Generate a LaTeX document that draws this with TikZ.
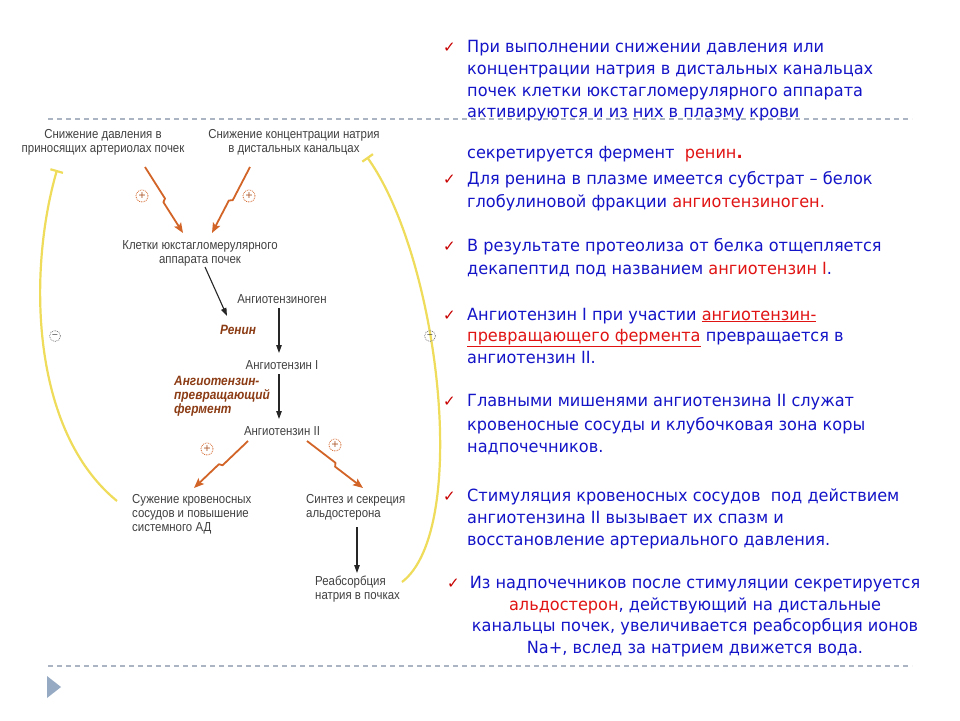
\documentclass[tikz,border=0pt]{standalone}
\usepackage{fontspec}
\setmainfont[FakeStretch=0.96]{DejaVu Sans}
\newfontfamily\chkfont{DejaVu Sans}
\newfontfamily\diagfont[FakeStretch=0.88]{Liberation Sans}
\usetikzlibrary{arrows.meta,calc}

\definecolor{txtblue}{RGB}{20,20,200}
\definecolor{txtred}{RGB}{225,20,20}
\definecolor{chk}{RGB}{200,0,0}
\definecolor{dgray}{RGB}{65,65,65}
\definecolor{enzbrown}{RGB}{140,60,20}
\definecolor{orng}{RGB}{210,100,40}
\definecolor{yell}{RGB}{238,220,90}
\definecolor{dashc}{RGB}{170,180,195}
\definecolor{tric}{RGB}{150,170,195}

\tikzset{
  bl/.style={anchor=base west, inner sep=0pt, font=\fontsize{16.8}{22}\selectfont, text=txtblue},
  blc/.style={anchor=base, inner sep=0pt, font=\fontsize{16.8}{22}\selectfont, text=txtblue},
  chkmark/.style={anchor=base west, inner sep=0pt, font=\chkfont\bfseries\fontsize{15}{15}\selectfont, text=chk},
  dtext/.style={inner sep=0pt, font=\diagfont\fontsize{13}{14}\selectfont, text=dgray, align=center},
  dtextl/.style={dtext, align=left, anchor=north west},
  enz/.style={inner sep=0pt, font=\diagfont\bfseries\itshape\fontsize{13.5}{14}\selectfont, text=enzbrown, align=left},
  blk/.style={draw=black!85, line width=1.1pt, -{Triangle[length=8pt,width=5.5pt]}},
  org/.style={draw=orng, line width=1.8pt, line join=round, -{Stealth[length=10pt,width=8pt,inset=2pt]}},
  yarc/.style={draw=yell, line width=2.2pt, -{Bar[width=13pt]}},
  plusc/.style={circle, draw=orng, densely dotted, line width=0.8pt, minimum size=12pt, inner sep=0pt, text=orng!80!black, font=\chkfont\fontsize{9.5}{9.5}\selectfont},
  minusc/.style={circle, draw=gray, densely dotted, line width=0.8pt, minimum size=11pt, inner sep=0pt, text=dgray, font=\chkfont\fontsize{8}{8}\selectfont},
  sep/.style={draw=dashc, line width=1.3pt, dash pattern=on 5pt off 4pt}
}

\newcommand\zaparrow[2]{\draw[org] (#1) -- ($(#1)!0.49!(#2)!1.6pt!90:(#2)$) -- ($(#1)!0.52!(#2)!1.6pt!-90:(#2)$) -- (#2);}

\begin{document}
\begin{tikzpicture}[x=1pt,y=-1pt]
\useasboundingbox (0,0) rectangle (960,720);
\fill[white] (0,0) rectangle (960,720);

% separators
\coordinate (s1a) at (48,119); \coordinate (s1b) at (912,119);
\coordinate (s2a) at (48,666); \coordinate (s2b) at (912,666);
\draw[sep] (s1a) -- (s1b);
\draw[sep] (s2a) -- (s2b);
\fill[tric] (47,676) -- (61,687) -- (47,698) -- cycle;

% ---------- left diagram ----------
\node[dtext] (n1) at (103,142.5) {Снижение давления в\\приносящих артериолах почек};
\node[dtext] (n2) at (294,142.5) {Снижение концентрации натрия\\в дистальных канальцах};
\node[dtext] (n3) at (200,253.5) {Клетки юкстагломерулярного\\аппарата почек};
\node[dtext] (n4) at (282,299) {Ангиотензиноген};
\node[enz] (ren) at (238,330) {Ренин};
\node[dtext] (n5) at (282,365) {Ангиотензин I};
\node[enz, anchor=north west] (ace) at (174,376) {Ангиотензин-\\превращающий\\фермент};
\node[dtext] (n6) at (282,431) {Ангиотензин II};
\node[dtextl] (n7) at (132,494) {Сужение кровеносных\\сосудов и повышение\\системного АД};
\node[dtextl] (n8) at (306,494) {Синтез и секреция\\альдостерона};
\node[dtextl] (n9) at (315,576) {Реабсорбция\\натрия в почках};

% connector end points
\coordinate (a1s) at (145,167); \coordinate (a1e) at (183,233);
\coordinate (a2s) at (250,167); \coordinate (a2e) at (212,233);
\coordinate (b1s) at (205,267); \coordinate (b1e) at (227,316);
\coordinate (b2s) at (279,308); \coordinate (b2e) at (279,353);
\coordinate (b3s) at (279,374); \coordinate (b3e) at (279,419);
\coordinate (a3s) at (248,441); \coordinate (a3e) at (194,488);
\coordinate (a4s) at (307,441); \coordinate (a4e) at (363,488);
\coordinate (b4s) at (357,527); \coordinate (b4e) at (357,573);

\zaparrow{a1s}{a1e}
\zaparrow{a2s}{a2e}
\zaparrow{a3s}{a3e}
\zaparrow{a4s}{a4e}
\draw[blk] (b1s) -- (b1e);
\draw[blk] (b2s) -- (b2e);
\draw[blk] (b3s) -- (b3e);
\draw[blk] (b4s) -- (b4e);

\node[plusc] (p1) at (142,196) {+};
\node[plusc] (p2) at (249,196) {+};
\node[plusc] (p3) at (207,449) {+};
\node[plusc] (p4) at (335,445) {+};

% feedback arcs
\coordinate (yl1) at (117,501); \coordinate (yl2) at (57,170);
\coordinate (yr1) at (402,582); \coordinate (yr2) at (367,157);
\draw[yarc] (yl1) .. controls (30,430) and (28,270) .. (yl2);
\draw[yarc] (yr1) .. controls (470,530) and (440,260) .. (yr2);
\node[minusc] (m1) at (55,336) {−};
\node[minusc] (m2) at (430,336) {−};

% ---------- right text ----------
\node[chkmark] (c1) at (443,52) {✓};
\node[bl] (t11) at (467,52) {При выполнении снижении давления или};
\node[bl] (t12) at (467,74) {концентрации натрия в дистальных канальцах};
\node[bl] (t13) at (467,96) {почек клетки юкстагломерулярного аппарата};
\node[bl] (t14) at (467,117.5) {активируются и из них в плазму крови};
\node[bl] (t15) at (467,158) {секретируется фермент \ \textcolor{txtred}{ренин{\bfseries .}}};

\node[chkmark] (c2) at (443,184) {✓};
\node[bl] (t21) at (467,184) {Для ренина в плазме имеется субстрат – белок};
\node[bl] (t22) at (467,207) {глобулиновой фракции \textcolor{txtred}{ангиотензиноген.}};

\node[chkmark] (c3) at (443,251.5) {✓};
\node[bl] (t31) at (467,251.5) {В результате протеолиза от белка отщепляется};
\node[bl] (t32) at (467,274.5) {декапептид под названием \textcolor{txtred}{ангиотензин I}.};

\node[chkmark] (c4) at (443,320) {✓};
\node[bl] (t41) at (467,320) {Ангиотензин I при участии \textcolor{txtred}{\underline{ангиотензин-}}};
\node[bl] (t42) at (467,341.5) {\textcolor{txtred}{\underline{превращающего фермента}} превращается в};
\node[bl] (t43) at (467,363) {ангиотензин II.};

\node[chkmark] (c5) at (443,406.5) {✓};
\node[bl] (t51) at (467,406.5) {Главными мишенями ангиотензина II служат};
\node[bl] (t52) at (467,430) {кровеносные сосуды и клубочковая зона коры};
\node[bl] (t53) at (467,452.5) {надпочечников.};

\node[chkmark] (c6) at (443,501.5) {✓};
\node[bl] (t61) at (467,501.5) {Стимуляция кровеносных сосудов \ под действием};
\node[bl] (t62) at (467,523.5) {ангиотензина II вызывает их спазм и};
\node[bl] (t63) at (467,545) {восстановление артериального давления.};

\node[chkmark] (c7) at (447,588) {✓};
\node[blc] (t71) at (695,588) {Из надпочечников после стимуляции секретируется};
\node[blc] (t72) at (695,610) {\textcolor{txtred}{альдостерон}, действующий на дистальные};
\node[blc] (t73) at (695,631.5) {канальцы почек, увеличивается реабсорбция ионов};
\node[blc] (t74) at (695,653) {Na+, вслед за натрием движется вода.};
\end{tikzpicture}
\end{document}
